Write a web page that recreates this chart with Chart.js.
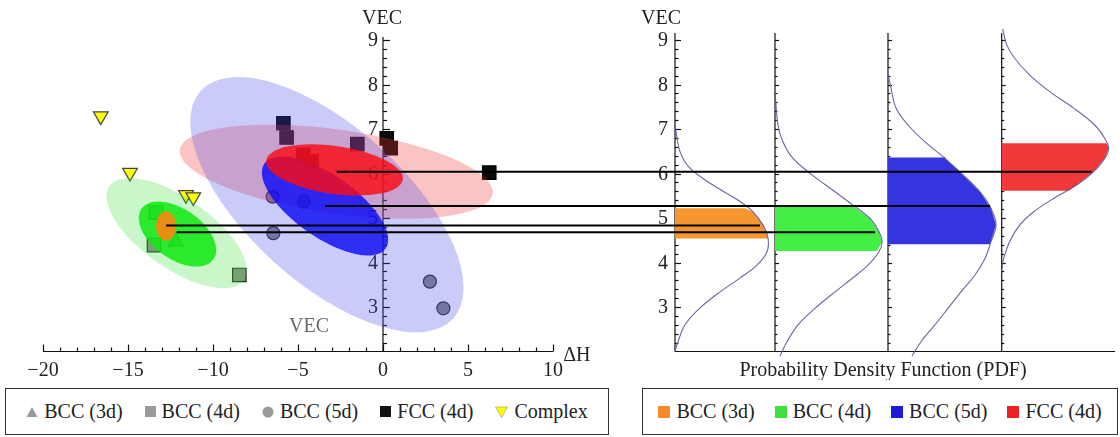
<!DOCTYPE html>
<html>
<head>
<meta charset="utf-8">
<script src="https://cdn.jsdelivr.net/npm/chart.js@4.4.1/dist/chart.umd.min.js"></script>
<style>
html,body{margin:0;padding:0;background:#fff;width:1120px;height:437px;overflow:hidden;}
#c{position:absolute;left:0;top:0;}
.legend{position:absolute;top:388px;height:47px;border:1px solid #333;box-sizing:border-box;display:flex;align-items:center;justify-content:center;gap:22px;font-family:"Liberation Serif","DejaVu Serif","Noto Serif",serif;font-size:20px;color:#222;background:#fff;}
.item{display:flex;align-items:center;gap:6px;white-space:nowrap;}
.item svg{display:block;}
</style>
</head>
<body>
<canvas id="c" width="1120" height="380"></canvas>
<div class="legend" style="left:5px;width:604px;">
  <span class="item"><svg width="12" height="12"><polygon points="6,1 11.5,11 0.5,11" fill="#9a9a9a"/></svg>BCC (3d)</span>
  <span class="item"><svg width="11" height="11"><rect x="0" y="0" width="11" height="11" fill="#9a9a9a"/></svg>BCC (4d)</span>
  <span class="item"><svg width="12" height="12"><circle cx="6" cy="6" r="5.5" fill="#9a9a9a"/></svg>BCC (5d)</span>
  <span class="item"><svg width="11" height="11"><rect x="0" y="0" width="11" height="11" fill="#111"/></svg>FCC (4d)</span>
  <span class="item"><svg width="13" height="12"><polygon points="0.5,1 12.5,1 6.5,11.5" fill="#ffff00" stroke="#b0b060" stroke-width="0.8"/></svg>Complex</span>
</div>
<div class="legend" style="left:642px;width:476px;gap:20px;">
  <span class="item"><svg width="12" height="12"><rect width="12" height="12" fill="#f5882a"/></svg>BCC (3d)</span>
  <span class="item"><svg width="12" height="12"><rect width="12" height="12" fill="#3ee03e"/></svg>BCC (4d)</span>
  <span class="item"><svg width="12" height="12"><rect width="12" height="12" fill="#1c1cd6"/></svg>BCC (5d)</span>
  <span class="item"><svg width="12" height="12"><rect width="12" height="12" fill="#ee2222"/></svg>FCC (4d)</span>
</div>
<script>
// ---------- tick labels ----------
const xTickValues = [-20, -15, -10, -5, 0, 5, 10];
const yTickValues = [3, 4, 5, 6, 7, 8, 9];

// ---------- scatter data (ΔH, VEC) ----------
const bcc3dDH = [-12.2];
const bcc3dVEC = [4.47];
const bcc4dDH = [-13.35, -13.47, -8.45];
const bcc4dVEC = [5.12, 4.39, 3.72];
const bcc5dDH = [-6.49, -4.65, -6.45, 2.76, 3.55];
const bcc5dVEC = [5.48, 5.37, 4.66, 3.57, 2.97];
const fccDH = [-5.86, -5.67, -1.51, 0.22, 0.45, 6.25, -4.69, -4.2];
const fccVEC = [7.13, 6.81, 6.66, 6.79, 6.57, 6.02, 6.42, 6.27];
const complexDH = [-16.6, -14.88, -11.59, -11.16];
const complexVEC = [7.29, 6.02, 5.52, 5.47];

// ---------- group means ----------
const groupNames = ['BCC (3d)', 'BCC (4d)', 'BCC (5d)', 'FCC (4d)'];
const meanDH = [-12.76, -12.14, -3.41, -2.72];
const meanVEC = [4.83, 4.68, 5.27, 6.04];
const meanPdf = [0.85, 1.0, 1.02, 0.9];

// ---------- confidence ellipses: center + u·cos t + v·sin t (data units) ----------
// order: FCC outer, BCC5d outer, BCC4d outer, BCC4d inner, BCC3d, BCC5d inner, FCC inner
const ellCenterDH = [-2.75, -3.3, -12.14, -12.09, -12.76, -3.41, -2.85];
const ellCenterVEC = [6.04, 5.3, 4.66, 4.64, 4.82, 5.27, 6.08];
const ellUdH = [9.206, 7.43, 3.953, 2.118, 0, 3.565, 4.018];
const ellUvec = [-0.494, -2.556, -1.058, -0.568, -0.326, -0.955, -0.216];
const ellVdH = [-0.344, -3.07, -1.182, -0.844, -0.588, -1.047, -0.196];
const ellVvec = [-0.935, -1.303, -0.645, -0.461, 0, -0.571, -0.534];

// ---------- PDF curves (VEC, density) ----------
const pdfBcc3dVEC = [7.1, 6.49, 6.12, 5.74, 5.37, 5.14, 4.84, 4.55, 4.24, 3.94, 3.65, 3.34, 2.98, 2.6, 2.22, 2.0];
const pdfBcc3dVal = [0, 0.05, 0.15, 0.38, 0.65, 0.78, 0.88, 0.93, 0.92, 0.82, 0.65, 0.45, 0.25, 0.10, 0.03, 0];
const pdfBcc4dVEC = [7.84, 7.09, 6.71, 6.34, 5.97, 5.59, 5.29, 4.99, 4.69, 4.47, 4.24, 3.94, 3.64, 3.34, 2.97, 2.6, 2.22, 1.9];
const pdfBcc4dVal = [0, 0.03, 0.08, 0.18, 0.37, 0.60, 0.78, 0.95, 1.04, 1.07, 1.04, 0.93, 0.77, 0.60, 0.40, 0.23, 0.12, 0.05];
const pdfBcc5dVEC = [8.2, 8.06, 7.47, 7.09, 6.71, 6.34, 5.97, 5.59, 5.22, 4.84, 4.47, 4.09, 3.72, 3.34, 2.97, 2.6, 2.22, 1.9];
const pdfBcc5dVal = [0, 0.017, 0.08, 0.20, 0.37, 0.57, 0.75, 0.92, 1.03, 1.08, 1.03, 0.97, 0.87, 0.73, 0.60, 0.47, 0.33, 0.24];
const pdfFccVEC = [9.25, 8.89, 8.59, 8.21, 7.84, 7.47, 7.09, 6.79, 6.57, 6.34, 6.04, 5.74, 5.44, 5.14, 4.84, 4.47, 4.09, 3.94, 3.8];
const pdfFccVal = [0.01, 0.05, 0.13, 0.28, 0.48, 0.72, 0.93, 1.03, 1.07, 1.03, 0.92, 0.75, 0.52, 0.32, 0.18, 0.08, 0.02, 0.007, 0];

// highlighted bands (VEC limits and density at the limits)
const bandTop = [5.22, 5.25, 6.36, 6.68];
const bandBottom = [4.54, 4.26, 4.41, 5.61];
const bandTopPdf = [0.70, 0.79, 0.58, 1.05];
const bandBottomPdf = [0.93, 1.02, 1.02, 0.67];

// ---------- layout / style constants ----------
const pdfColumnBase = [0, 1.0, 2.13, 3.267];
const ellColors = ['rgba(240,60,60,0.30)', 'rgba(70,70,235,0.28)', 'rgba(60,225,60,0.28)',
  'rgba(20,232,20,0.88)', 'rgba(250,135,20,0.92)', 'rgba(12,12,245,0.82)', 'rgba(250,12,22,0.82)'];
const bandColors = ['#f5962e', '#44ee44', '#3434e0', '#f23838'];
const FONT = '"Liberation Serif", "DejaVu Serif", "Noto Serif", serif';

const pdfVECs = [pdfBcc3dVEC, pdfBcc4dVEC, pdfBcc5dVEC, pdfFccVEC];
const pdfVals = [pdfBcc3dVal, pdfBcc4dVal, pdfBcc5dVal, pdfFccVal];

function pts(xs, ys) { return xs.map((v, i) => ({x: v, y: ys[i]})); }

const datasets = [];
const mk = (label, xs, ys, style, radius, bg, border, rot) => ({
  type: 'scatter', label, data: pts(xs, ys), pointStyle: style, pointRadius: radius,
  pointBackgroundColor: bg, pointBorderColor: border, pointBorderWidth: 1.2, pointRotation: rot || 0,
  order: 10, xAxisID: 'x', yAxisID: 'y'
});
datasets.push(mk('FCC (4d)', fccDH, fccVEC, 'rect', 9.5, '#0a0a0a', '#000', 0));
datasets.push(mk('BCC (4d)', bcc4dDH, bcc4dVEC, 'rect', 9.5, '#8a8a8a', '#222', 0));
datasets.push(mk('BCC (5d)', bcc5dDH, bcc5dVEC, 'circle', 6.5, '#8a8a8a', '#333', 0));
datasets.push(mk('BCC (3d)', bcc3dDH, bcc3dVEC, 'triangle', 8.5, '#8a8a8a', '#333', 0));
datasets.push(mk('Complex', complexDH, complexVEC, 'triangle', 8.5, '#ffff00', '#444', 180));

// PDF bands
for (let g = 0; g < 4; g++) {
  const b = pdfColumnBase[g];
  const poly = [{x: b, y: bandTop[g]}, {x: b + bandTopPdf[g], y: bandTop[g]}];
  pdfVECs[g].forEach((v, i) => { if (v < bandTop[g] && v > bandBottom[g]) poly.push({x: b + pdfVals[g][i], y: v}); });
  poly.push({x: b + bandBottomPdf[g], y: bandBottom[g]});
  poly.push({x: b, y: bandBottom[g]});
  datasets.push({type: 'line', label: groupNames[g] + ' band', data: poly, xAxisID: 'xp', yAxisID: 'y',
    borderWidth: 0, borderColor: 'rgba(0,0,0,0)', backgroundColor: bandColors[g], fill: 'shape',
    pointRadius: 0, tension: 0, order: 3});
}
// PDF curves
for (let g = 0; g < 4; g++) {
  const b = pdfColumnBase[g];
  datasets.push({type: 'line', label: groupNames[g] + ' PDF', data: pdfVECs[g].map((v, i) => ({x: b + pdfVals[g][i], y: v})),
    xAxisID: 'xp', yAxisID: 'y', borderWidth: 1.1, borderColor: 'rgba(95,95,155,0.95)', fill: false,
    pointRadius: 0, tension: 0.35, order: 2});
}

const Y_MIN = 2 - 28.5 / 44.5, Y_MAX = 2 + 351.5 / 44.5;
const X_MIN = -383 / 17, X_MAX = (1120 - 383) / 17;
const XP_MIN = -6.75, XP_MAX = 4.45;

function minusFmt(v) { return v < 0 ? '\u2212' + Math.abs(v) : String(v); }

const ellipsePlugin = {
  id: 'ellipses',
  afterDatasetDraw(chart, args) {
    if (args.index !== 0) return;
    const {ctx, scales: {x, y}} = chart;
    for (let i = 0; i < ellCenterDH.length; i++) {
      const cx = x.getPixelForValue(ellCenterDH[i]), cy = y.getPixelForValue(ellCenterVEC[i]);
      const ux = x.getPixelForValue(ellCenterDH[i] + ellUdH[i]) - cx;
      const uy = y.getPixelForValue(ellCenterVEC[i] + ellUvec[i]) - cy;
      const vx = x.getPixelForValue(ellCenterDH[i] + ellVdH[i]) - cx;
      const vy = y.getPixelForValue(ellCenterVEC[i] + ellVvec[i]) - cy;
      ctx.save();
      ctx.beginPath();
      ctx.transform(ux, uy, vx, vy, cx, cy);
      ctx.arc(0, 0, 1, 0, Math.PI * 2);
      ctx.restore();
      ctx.fillStyle = ellColors[i];
      ctx.fill();
    }
  }
};

const framePlugin = {
  id: 'frame',
  beforeDatasetsDraw(chart) {
    const {ctx, scales: {x, xp, y}} = chart;
    const L = (a, b, c, d) => { ctx.beginPath(); ctx.moveTo(a, b); ctx.lineTo(c, d); ctx.stroke(); };
    ctx.save();
    ctx.strokeStyle = '#111';
    ctx.lineWidth = 1.2;
    const x0 = x.getPixelForValue(0), yb = y.getPixelForValue(2);
    // left panel axes
    L(x0, yb, x0, y.getPixelForValue(9.07));
    for (let k = 11; k <= 45; k++) {
      const py = Math.round(y.getPixelForValue(k / 5)) + 0.5;
      L(x0, py, x0 + (k % 5 === 0 ? 7 : 4), py);
    }
    L(x.getPixelForValue(-20), yb, x.getPixelForValue(10), yb);
    for (let v = -20; v <= 10; v++) {
      const px = Math.round(x.getPixelForValue(v)) + 0.5;
      L(px, yb, px, yb - (v % 5 === 0 ? 7 : 4));
    }
    // right panel axes
    pdfColumnBase.forEach((b, g) => {
      const px = xp.getPixelForValue(b);
      L(px, yb, px, y.getPixelForValue(9.16));
      for (let k = 11; k <= 45; k++) {
        const py = Math.round(y.getPixelForValue(k / 5)) + 0.5;
        const big = k % 5 === 0;
        L(px, py, px + (g === 0 ? (big ? 6 : 3.5) : (big ? 4 : 2.5)), py);
      }
    });
    L(xp.getPixelForValue(0), yb, xp.getPixelForValue(4.4), yb);

    // labels
    ctx.fillStyle = '#222';
    ctx.font = '20px ' + FONT;
    ctx.textBaseline = 'middle';
    ctx.textAlign = 'right';
    yTickValues.forEach(v => {
      ctx.fillText(String(v), x0 - 5, y.getPixelForValue(v) + 1);
      ctx.fillText(String(v), xp.getPixelForValue(0) - 7, y.getPixelForValue(v) + 1);
    });
    ctx.textAlign = 'center';
    xTickValues.forEach(v => ctx.fillText(minusFmt(v), x.getPixelForValue(v), yb + 19));
    ctx.fillText('VEC', x0 - 1, y.getPixelForValue(9) - 21);
    ctx.fillText('VEC', xp.getPixelForValue(0) - 14, y.getPixelForValue(9) - 21);
    ctx.fillText('Probability Density Function (PDF)', xp.getPixelForValue(2.08), yb + 19);
    ctx.textAlign = 'left';
    ctx.fillText('\u0394H', x.getPixelForValue(10.6), yb + 4);
    ctx.textAlign = 'center';
    ctx.fillStyle = '#6a6a6a';
    ctx.fillText('VEC', x.getPixelForValue(-4.35), y.getPixelForValue(2.55));
    ctx.restore();
  },
  afterDatasetsDraw(chart) {
    const {ctx, scales: {x, xp, y}} = chart;
    ctx.save();
    ctx.strokeStyle = '#000';
    ctx.lineWidth = 2;
    for (let g = 0; g < 4; g++) {
      const py = y.getPixelForValue(meanVEC[g]);
      ctx.beginPath();
      ctx.moveTo(x.getPixelForValue(meanDH[g]), py);
      ctx.lineTo(xp.getPixelForValue(pdfColumnBase[g] + meanPdf[g]), py);
      ctx.stroke();
    }
    ctx.restore();
  }
};

new Chart(document.getElementById('c'), {
  type: 'scatter',
  data: {datasets},
  options: {
    responsive: false,
    animation: false,
    events: [],
    layout: {padding: 0, autoPadding: false},
    plugins: {legend: {display: false}, tooltip: {enabled: false}},
    scales: {
      x: {type: 'linear', display: false, min: X_MIN, max: X_MAX},
      xp: {type: 'linear', display: false, min: XP_MIN, max: XP_MAX},
      y: {type: 'linear', display: false, min: Y_MIN, max: Y_MAX}
    }
  },
  plugins: [ellipsePlugin, framePlugin]
});
</script>
</body>
</html>
